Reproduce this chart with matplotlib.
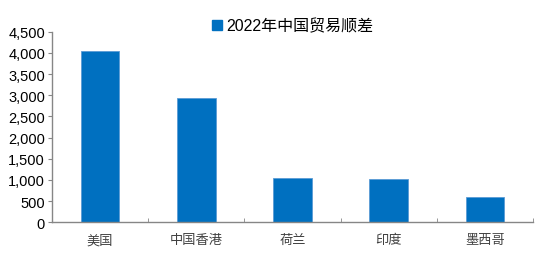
import matplotlib.pyplot as plt
from matplotlib.patches import Patch
from matplotlib.ticker import FuncFormatter

plt.rcParams['font.family'] = ['Liberation Sans', 'Noto Sans CJK SC', 'DejaVu Sans']

categories = ['美国', '中国香港', '荷兰', '印度', '墨西哥']
surplus = [4041, 2936, 1040, 1015, 590]
series_name = '2022年中国贸易顺差'
yticks = [0, 500, 1000, 1500, 2000, 2500, 3000, 3500, 4000, 4500]

bar_color = '#0070C0'
axis_color = '#868686'

fig = plt.figure(figsize=(5.5, 2.55), dpi=100)
ax = fig.add_axes([0.0945, 0.1243, 0.8745, 0.7475])

x = list(range(len(categories)))
ax.bar(x, surplus, width=0.4, color=bar_color, edgecolor='#5B9BD5', linewidth=0.6)

ax.set_xlim(-0.5, len(categories) - 0.5)
ax.set_ylim(0, 4500)
ax.set_yticks(yticks)
ax.yaxis.set_major_formatter(FuncFormatter(lambda v, p: f'{int(v):,}'))
ax.tick_params(axis='y', labelsize=10.5, length=3, color=axis_color, pad=2)

# category labels at centres, tick marks on the boundaries
ax.set_xticks(x)
ax.set_xticklabels(categories, family=['Noto Sans CJK SC', 'DejaVu Sans'], fontsize=9.5, color='#404040')
ax.tick_params(axis='x', which='major', length=0, pad=8)
ax.set_xticks([i + 0.5 for i in x], minor=True)
ax.tick_params(axis='x', which='minor', direction='in', length=3, color=axis_color)

for s in ['top', 'right']:
    ax.spines[s].set_visible(False)
for s in ['left', 'bottom']:
    ax.spines[s].set_color(axis_color)
    ax.spines[s].set_linewidth(1.0)

fig.legend(handles=[Patch(color=bar_color, label=series_name)],
           loc='center', bbox_to_anchor=(0.532, 0.895), frameon=False,
           handlelength=0.6, handleheight=0.6, handletextpad=0.25,
           prop={'family': ['Liberation Sans', 'Noto Sans CJK SC'], 'size': 11.5})

fig.savefig('out.png', dpi=100)
